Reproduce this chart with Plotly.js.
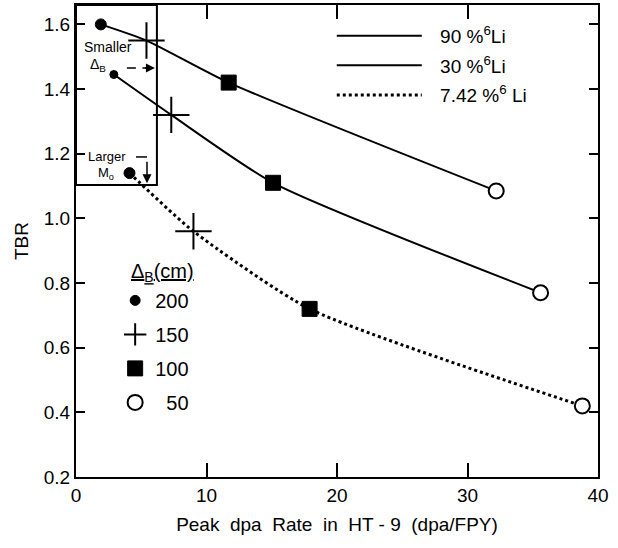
<!DOCTYPE html>
<html><head><meta charset="utf-8">
<script src="https://cdn.plot.ly/plotly-3.0.1.min.js"></script>
<style>body{margin:0;background:#fff}#chart{width:618px;height:548px}</style>
</head><body><div id="chart"></div>
<script>
// Peak dpa rate (dpa/FPY) and TBR for each 6Li enrichment, ordered by Delta_B = 200,150,100,50 cm
const dpa90 = [1.9, 5.4, 11.7, 32.2];
const tbr90 = [1.60, 1.55, 1.42, 1.085];
const dpa30 = [2.9, 7.3, 15.1, 35.6];
const tbr30 = [1.445, 1.32, 1.11, 0.77];
const dpa742 = [4.1, 9.0, 17.9, 38.8];
const tbr742 = [1.14, 0.96, 0.72, 0.42];
const deltaB = ['200', '150', '100', '\u200750'];
const seriesNames = ['\u2002\u200990 %<sup>6</sup>Li', '\u2002\u200930 %<sup>6</sup>Li', '\u2002\u20097.42 %<sup>6</sup> Li'];
const xTicks = [0, 10, 20, 30, 40];
const yTicks = [0.2, 0.4, 0.6, 0.8, 1.0, 1.2, 1.4, 1.6];

const FONT = 'Liberation Sans, Arial, Helvetica, sans-serif';
const seriesX = [dpa90, dpa30, dpa742];
const seriesY = [tbr90, tbr30, tbr742];
const dashes = ['solid', 'solid', 'dot'];
const widths = [2, 2, 3];

const traces = [];
seriesX.forEach((xs, s) => {
  traces.push({
    x: xs, y: seriesY[s], mode: 'lines', type: 'scatter',
    name: seriesNames[s], legend: 'legend', legendgroup: 'L' + s,
    line: {color: '#000', width: widths[s], dash: dashes[s], shape: 'spline', smoothing: 0.6},
    hoverinfo: 'skip'
  });
});

const markerStyles = [
  {symbol: 'circle', size: [11, 8, 11], color: '#000', opacity: 1, line: {color: '#000', width: 1}},
  {symbol: 'cross-thin', size: 26, color: '#000', opacity: 1, line: {color: '#000', width: 2}},
  {symbol: 'square', size: 15, color: '#000', opacity: 1, line: {color: '#000', width: 1}},
  {symbol: 'circle', size: 15, color: '#fff', opacity: 1, line: {color: '#000', width: 2}}
];
deltaB.forEach((name, i) => {
  traces.push({
    x: seriesX.map(a => a[i]), y: seriesY.map(a => a[i]),
    mode: 'markers', type: 'scatter', name: name,
    legend: 'legend2', legendgroup: 'M' + i,
    marker: markerStyles[i], hoverinfo: 'skip'
  });
});

const baseAxis = {
  showgrid: false, zeroline: false, showline: true, linecolor: '#000', linewidth: 2,
  mirror: 'ticks', ticks: 'inside', tickcolor: '#000', tickwidth: 2,
  tickfont: {family: FONT, size: 19, color: '#000'}
};

const layout = {
  width: 618, height: 548,
  margin: {l: 76, r: 20, t: 5, b: 71},
  paper_bgcolor: '#fff', plot_bgcolor: '#fff',
  font: {family: FONT, color: '#000'},
  xaxis: Object.assign({}, baseAxis, {
    range: [0, 40], tickvals: xTicks, ticktext: xTicks.map(String), ticklen: 14,
    title: {text: 'Peak  dpa  Rate  in  HT - 9  (dpa/FPY)', font: {family: FONT, size: 19}, standoff: 13}
  }),
  yaxis: Object.assign({}, baseAxis, {
    range: [0.2, 1.66], tickvals: yTicks, ticktext: yTicks.map(v => v.toFixed(1)), ticklen: 9,
    title: {text: 'TBR', font: {family: FONT, size: 19}, standoff: 10}
  }),
  legend: {
    x: 0.49, y: 0.975, xanchor: 'left', yanchor: 'top',
    bgcolor: 'rgba(0,0,0,0)', borderwidth: 0, itemwidth: 85,
    font: {family: FONT, size: 19, color: '#000'}, tracegroupgap: 2, traceorder: 'grouped'
  },
  legend2: {
    x: 0.075, y: 0.4155, xanchor: 'left', yanchor: 'top',
    bgcolor: 'rgba(0,0,0,0)', borderwidth: 0, itemwidth: 30,
    font: {family: FONT, size: 20, color: '#000'}, tracegroupgap: 5, traceorder: 'grouped'
  },
  shapes: [
    {type: 'rect', xref: 'x', yref: 'y', x0: 0, x1: 6.2, y0: 1.103, y1: 1.66, line: {color: '#000', width: 2}},
    {type: 'line', xref: 'x', yref: 'y', x0: 3.9, x1: 5.4, y0: 1.465, y1: 1.465, line: {color: '#000', width: 1.5, dash: 'dash'}},
    {type: 'line', xref: 'x', yref: 'y', x0: 4.6, x1: 5.44, y0: 1.19, y1: 1.19, line: {color: '#000', width: 1.5}}
  ],
  annotations: [
    {xref: 'x', yref: 'y', x: 6.6, y: 0.834, text: '<u>Δ<sub>B</sub>(cm)</u>', showarrow: false, font: {family: FONT, size: 20}},
    {xref: 'x', yref: 'y', x: 2.45, y: 1.53, text: 'Smaller', showarrow: false, font: {family: FONT, size: 14}},
    {xref: 'x', yref: 'y', x: 1.7, y: 1.474, text: 'Δ<sub>B</sub>', showarrow: false, font: {family: FONT, size: 14}},
    {xref: 'x', yref: 'y', x: 6.05, y: 1.465, ax: -14, ay: 0, axref: 'pixel', ayref: 'pixel', text: '',
      showarrow: true, arrowhead: 2, arrowsize: 1.2, arrowwidth: 1.5, arrowcolor: '#000'},
    {xref: 'x', yref: 'y', x: 2.38, y: 1.19, text: 'Larger', showarrow: false, font: {family: FONT, size: 13}},
    {xref: 'x', yref: 'y', x: 2.3, y: 1.138, text: 'M<sub>o</sub>', showarrow: false, font: {family: FONT, size: 13}},
    {xref: 'x', yref: 'y', x: 5.44, y: 1.109, ax: 0, ay: -23, axref: 'pixel', ayref: 'pixel', text: '',
      showarrow: true, arrowhead: 2, arrowsize: 1.2, arrowwidth: 1.5, arrowcolor: '#000'}
  ]
};

Plotly.newPlot('chart', traces, layout, {staticPlot: true});
</script>
</body></html>
